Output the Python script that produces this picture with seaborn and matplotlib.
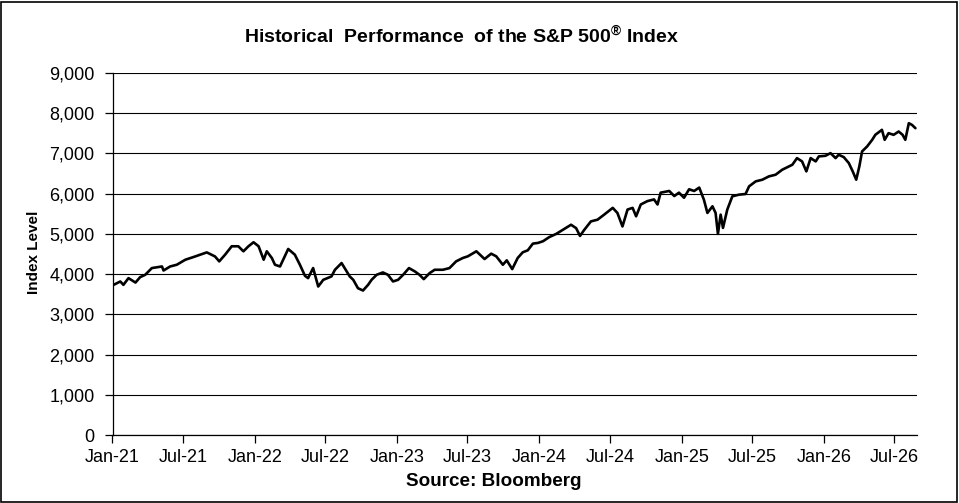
import matplotlib
matplotlib.use("Agg")
import matplotlib.pyplot as plt
from matplotlib.ticker import FuncFormatter, MultipleLocator
from matplotlib.patches import Rectangle
import seaborn as sns
import pandas as pd

# ---- data ----
dates = [
    "2021-01-04", "2021-01-21", "2021-01-29", "2021-02-11", "2021-03-01", "2021-03-13",
    "2021-03-26", "2021-04-12", "2021-05-08", "2021-05-12", "2021-05-29", "2021-06-15",
    "2021-07-07", "2021-07-28", "2021-08-14", "2021-08-31", "2021-09-21", "2021-10-02",
    "2021-10-17", "2021-11-03", "2021-11-20", "2021-12-03", "2021-12-16", "2021-12-29",
    "2022-01-11", "2022-01-24", "2022-02-01", "2022-02-14", "2022-02-22", "2022-03-07",
    "2022-03-28", "2022-04-14", "2022-04-27", "2022-05-10", "2022-05-18", "2022-05-31",
    "2022-06-13", "2022-06-26", "2022-07-17", "2022-07-26", "2022-08-12", "2022-08-20",
    "2022-09-02", "2022-09-11", "2022-09-23", "2022-10-06", "2022-10-19", "2022-10-28",
    "2022-11-10", "2022-11-26", "2022-12-09", "2022-12-22", "2023-01-04", "2023-01-17",
    "2023-02-01", "2023-02-16", "2023-02-28", "2023-03-11", "2023-03-26", "2023-04-08",
    "2023-04-29", "2023-05-16", "2023-06-02", "2023-06-19", "2023-07-02", "2023-07-24",
    "2023-08-14", "2023-08-31", "2023-09-13", "2023-09-30", "2023-10-10", "2023-10-24",
    "2023-11-07", "2023-11-20", "2023-12-03", "2023-12-16", "2023-12-29", "2024-01-11",
    "2024-01-27", "2024-02-14", "2024-03-02", "2024-03-23", "2024-04-05", "2024-04-15",
    "2024-04-26", "2024-05-13", "2024-05-30", "2024-06-16", "2024-07-08", "2024-07-20",
    "2024-08-02", "2024-08-15", "2024-08-28", "2024-09-06", "2024-09-18", "2024-10-05",
    "2024-10-22", "2024-10-31", "2024-11-08", "2024-11-30", "2024-12-13", "2024-12-25",
    "2025-01-07", "2025-01-20", "2025-02-02", "2025-02-15", "2025-02-27", "2025-03-08",
    "2025-03-21", "2025-03-29", "2025-04-04", "2025-04-11", "2025-04-17", "2025-04-28",
    "2025-05-11", "2025-05-28", "2025-06-14", "2025-06-23", "2025-07-10", "2025-07-27",
    "2025-08-13", "2025-08-30", "2025-09-16", "2025-10-03", "2025-10-12", "2025-10-24",
    "2025-11-06", "2025-11-17", "2025-11-28", "2025-12-11", "2025-12-19", "2026-01-05",
    "2026-01-18", "2026-01-31", "2026-02-08", "2026-02-21", "2026-03-06", "2026-03-16",
    "2026-03-25", "2026-04-02", "2026-04-09", "2026-04-22", "2026-05-05", "2026-05-13",
    "2026-05-30", "2026-06-06", "2026-06-16", "2026-06-29", "2026-07-12", "2026-07-22",
    "2026-07-29", "2026-08-07", "2026-08-15", "2026-08-24",
]
index_level = [
    3733, 3817, 3733, 3900, 3790, 3925,
    3983, 4150, 4190, 4090, 4190, 4233,
    4358, 4425, 4483, 4540, 4440, 4317,
    4483, 4692, 4692, 4567, 4692, 4792,
    4692, 4358, 4567, 4400, 4233, 4190,
    4625, 4483, 4233, 3958, 3900, 4150,
    3692, 3858, 3942, 4108, 4275, 4150,
    3942, 3858, 3650, 3592, 3733, 3858,
    3983, 4042, 3983, 3817, 3858, 3983,
    4150, 4067, 3983, 3875, 4025, 4108,
    4108, 4150, 4317, 4400, 4442, 4567,
    4375, 4508, 4442, 4233, 4342, 4125,
    4400, 4542, 4592, 4758, 4775, 4817,
    4920, 5000, 5101, 5227, 5143, 4950,
    5101, 5311, 5353, 5479, 5647, 5521,
    5185, 5605, 5647, 5437, 5731, 5815,
    5857, 5731, 6025, 6067, 5941, 6025,
    5899, 6109, 6067, 6151, 5851, 5521,
    5686, 5521, 5000, 5479, 5149, 5603,
    5934, 5975, 5992, 6182, 6306, 6347,
    6430, 6471, 6595, 6678, 6719, 6884,
    6802, 6554, 6884, 6802, 6926, 6942,
    7008, 6884, 6967, 6909, 6760, 6554,
    6347, 6678, 7050, 7174, 7339, 7463,
    7587, 7339, 7504, 7463, 7545, 7463,
    7339, 7752, 7711, 7628,
]
x_tick_dates = ["2021-01-01", "2021-07-01", "2022-01-01", "2022-07-01", "2023-01-01",
                "2023-07-01", "2024-01-01", "2024-07-01", "2025-01-01", "2025-07-01",
                "2026-01-01", "2026-07-01"]
x_tick_labels = ["Jan-21", "Jul-21", "Jan-22", "Jul-22", "Jan-23", "Jul-23",
                 "Jan-24", "Jul-24", "Jan-25", "Jul-25", "Jan-26", "Jul-26"]

df = pd.DataFrame({"date": pd.to_datetime(dates), "value": index_level})

sns.set_style("white")
plt.rcParams["font.family"] = ["Liberation Sans", "DejaVu Sans"]
plt.rcParams["mathtext.fontset"] = "custom"
plt.rcParams["mathtext.rm"] = "Liberation Sans:bold"
plt.rcParams["mathtext.bf"] = "Liberation Sans:bold"

fig = plt.figure(figsize=(9.59, 5.03), dpi=100)
ax = fig.add_axes([112.5 / 959, 1 - 435 / 503, (917 - 112.5) / 959, (435 - 73) / 503])

sns.lineplot(data=df, x="date", y="value", color="black", linewidth=1.9, ax=ax)

ax.set_ylim(0, 9000)
ax.set_xlim(pd.Timestamp("2021-01-01"), pd.Timestamp("2026-08-28"))
ax.yaxis.set_major_locator(MultipleLocator(1000))
ax.yaxis.set_major_formatter(FuncFormatter(lambda v, p: f"{v:,.0f}"))
ax.set_xticks(pd.to_datetime(x_tick_dates))
ax.set_xticklabels(x_tick_labels)

ax.grid(axis="y", color="black", linewidth=0.8)
ax.grid(axis="x", visible=False)
for side in ["top", "right"]:
    ax.spines[side].set_visible(False)
for side in ["left", "bottom"]:
    ax.spines[side].set_color("black")
    ax.spines[side].set_linewidth(0.9)

ax.tick_params(axis="both", which="major", direction="out", length=6, width=0.9,
               color="black", labelsize=13, labelcolor="black")
ax.tick_params(axis="y", pad=7, left=True)
ax.tick_params(axis="x", pad=4, bottom=True)

ax.set_xlabel("")
ax.set_ylabel("Index Level", fontsize=11, fontweight="bold", color="black")
ax.yaxis.set_label_coords(-0.089, 0.505)

fig.text(462 / 959, 1 - 35.5 / 503, "Historical  Performance  of the S&P 500$^{®}$ Index",
         ha="center", va="center", fontsize=14, fontweight="bold", color="black")
fig.text(493.5 / 959, 1 - 482 / 503, "Source: Bloomberg", ha="center", va="center",
         fontsize=13.6, fontweight="bold", color="black")

fig.patches.append(Rectangle((1 / 959, 1 / 503), 956 / 959, 500 / 503, transform=fig.transFigure,
                             fill=False, edgecolor="black", linewidth=1.2))

fig.savefig("out.png", dpi=100, facecolor="white")
